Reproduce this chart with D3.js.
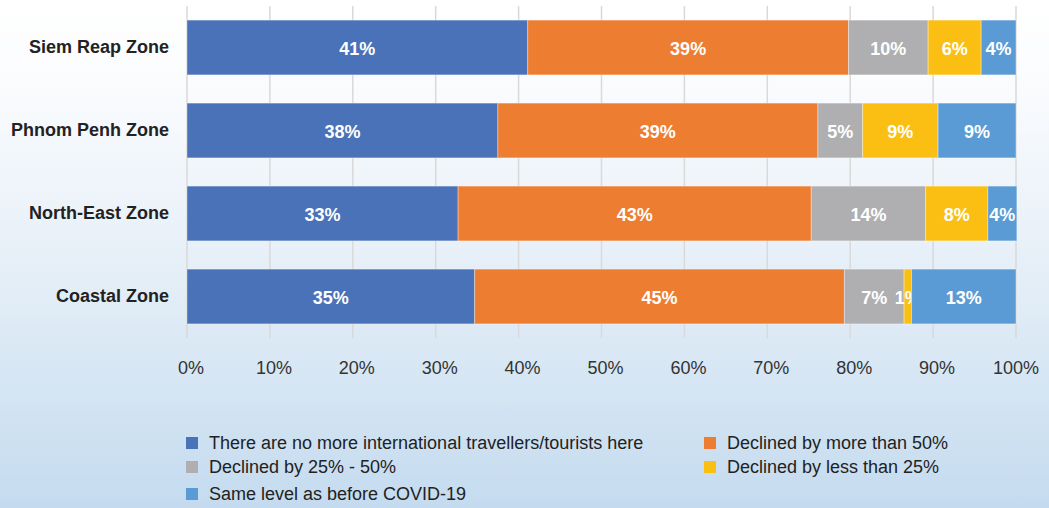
<!DOCTYPE html>
<html>
<head>
<meta charset="utf-8">
<script src="https://cdn.jsdelivr.net/npm/d3@7"></script>
<style>
  body { margin: 0; }
  svg { display: block; }
</style>
</head>
<body>
<svg id="chart"></svg>
<script>
const W = 1049, H = 508;

const zones = ["Siem Reap Zone", "Phnom Penh Zone", "North-East Zone", "Coastal Zone"];
const seriesNames = [
  "There are no more international travellers/tourists here",
  "Declined by more than 50%",
  "Declined by 25% - 50%",
  "Declined by less than 25%",
  "Same level as before COVID-19"
];
// one array per series, in zone order
const noMore = [41.1, 37.5, 32.7, 34.7];
const over50 = [38.7, 38.6, 42.6, 44.6];
const from25to50 = [9.6, 5.4, 13.8, 7.2];
const under25 = [6.4, 9.1, 7.5, 0.9];
const sameLevel = [4.2, 9.4, 3.5, 12.6];
const xTicks = [0, 10, 20, 30, 40, 50, 60, 70, 80, 90, 100];

const colors = ["#4a72b8", "#ed7d31", "#afafb1", "#fbbf13", "#5b9bd5"];

const svg = d3.select("#chart").attr("width", W).attr("height", H);

// background gradient
const grad = svg.append("defs").append("linearGradient")
  .attr("id", "bg").attr("x1", 0).attr("y1", 0).attr("x2", 0).attr("y2", 1);
grad.append("stop").attr("offset", "0%").attr("stop-color", "#ffffff");
grad.append("stop").attr("offset", "15%").attr("stop-color", "#fbfcfe");
grad.append("stop").attr("offset", "55%").attr("stop-color", "#e4eef7");
grad.append("stop").attr("offset", "100%").attr("stop-color", "#c4dbef");
svg.append("rect").attr("width", W).attr("height", H).attr("fill", "url(#bg)");

const rows = zones.map((z, i) => ({
  zone: z,
  values: [noMore[i], over50[i], from25to50[i], under25[i], sameLevel[i]]
}));

const x = d3.scaleLinear().domain([0, 100]).range([187, 1016]);
const y = d3.scaleBand().domain(zones).range([6, 338]).paddingInner(0.34).paddingOuter(0.17);

// gridlines
svg.append("g")
  .selectAll("line")
  .data(xTicks)
  .join("line")
  .attr("x1", d => x(d)).attr("x2", d => x(d))
  .attr("y1", 6).attr("y2", 338)
  .attr("stroke", "#d9d9d9")
  .attr("stroke-width", 1.5);

// tick labels
svg.append("g")
  .selectAll("text")
  .data(xTicks)
  .join("text")
  .attr("x", d => x(d) + (d < 100 ? 4 : 0))
  .attr("y", 374)
  .attr("text-anchor", "middle")
  .attr("font-family", "'Liberation Sans', Arial, sans-serif")
  .attr("font-size", 18)
  .attr("fill", "#333")
  .text(d => d + "%");

// category labels
svg.append("g")
  .selectAll("text")
  .data(zones)
  .join("text")
  .attr("x", 169)
  .attr("y", d => y(d) + y.bandwidth() / 2 - 1)
  .attr("dy", "0.35em")
  .attr("text-anchor", "end")
  .attr("font-family", "'Liberation Sans', Arial, sans-serif")
  .attr("font-weight", "bold")
  .attr("font-size", 18)
  .attr("fill", "#222")
  .text(d => d);

// stacked bars
const groups = svg.append("g")
  .selectAll("g")
  .data(rows)
  .join("g")
  .attr("transform", d => `translate(0,${y(d.zone)})`);

const segs = groups.selectAll("g")
  .data(d => {
    let acc = 0;
    return d.values.map((v, i) => {
      const s = { x0: acc, x1: acc + v, v: v, i: i };
      acc += v;
      return s;
    });
  })
  .join("g");

segs.append("rect")
  .attr("x", d => x(d.x0))
  .attr("width", d => x(d.x1) - x(d.x0))
  .attr("height", y.bandwidth())
  .attr("fill", d => colors[d.i])
  .attr("stroke", "rgba(255,255,255,0.35)")
  .attr("stroke-width", 1);

segs.append("text")
  .attr("x", d => (x(d.x0) + x(d.x1)) / 2)
  .attr("y", y.bandwidth() / 2 + 1)
  .attr("dy", "0.36em")
  .attr("text-anchor", "middle")
  .attr("font-family", "'Liberation Sans', Arial, sans-serif")
  .attr("font-weight", "bold")
  .attr("font-size", 18)
  .attr("fill", "#fff")
  .text(d => Math.round(d.v) + "%");

// legend
const legendPos = [[186, 443], [704, 443], [186, 467], [704, 467], [186, 494]];
const legend = svg.append("g")
  .selectAll("g")
  .data(seriesNames)
  .join("g")
  .attr("transform", (d, i) => `translate(${legendPos[i][0]},${legendPos[i][1]})`);

legend.append("rect")
  .attr("x", 0).attr("y", -6)
  .attr("width", 12).attr("height", 12)
  .attr("fill", (d, i) => colors[i]);

legend.append("text")
  .attr("x", 23)
  .attr("dy", "0.35em")
  .attr("font-family", "'Liberation Sans', Arial, sans-serif")
  .attr("font-size", 18)
  .attr("fill", "#222")
  .text(d => d);
</script>
</body>
</html>
